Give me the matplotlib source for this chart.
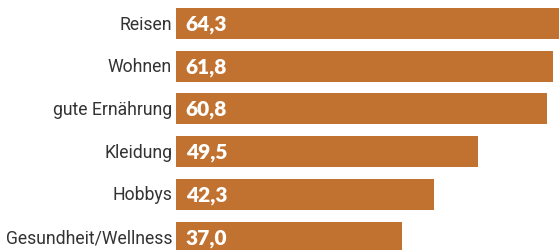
import matplotlib
matplotlib.use("Agg")
import matplotlib.pyplot as plt

categories = ["Reisen", "Wohnen", "gute Ernährung", "Kleidung", "Hobbys", "Gesundheit/Wellness"]
values = [64.3, 61.8, 60.8, 49.5, 42.3, 37.0]
value_labels = ["64,3", "61,8", "60,8", "49,5", "42,3", "37,0"]

bar_color = "#C27230"

fig = plt.figure(figsize=(5.59, 2.51), dpi=100)
ax = fig.add_axes([176 / 559, 0, 1 - 176 / 559, 1])

ypos = list(range(len(categories)))
ax.barh(ypos, values, height=0.726, color=bar_color)
ax.set_xlim(0, 62.8)
ax.set_ylim(5.304, -0.574)

for y, lab, txt in zip(ypos, categories, value_labels):
    ax.text(-0.65, y, lab, ha="right", va="center", fontsize=12.7,
            family="Roboto", color="#333333", clip_on=False)
    ax.text(1.6, y, txt, ha="left", va="center", fontsize=15,
            family="Lato", fontweight="heavy", color="white")

ax.axis("off")
fig.savefig("out.png", dpi=100)
